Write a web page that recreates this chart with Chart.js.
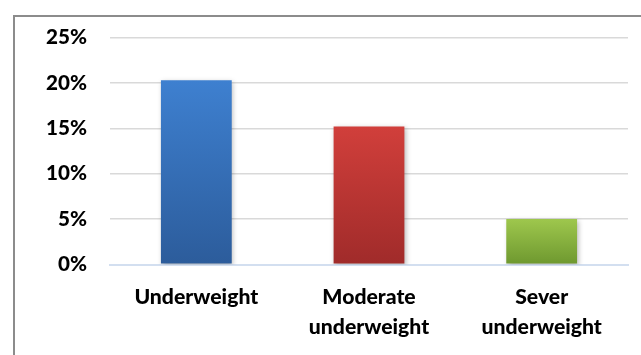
<!DOCTYPE html>
<html>
<head>
<meta charset="utf-8">
<script src="https://cdn.jsdelivr.net/npm/chart.js@4.4.1/dist/chart.umd.min.js"></script>
<style>
  html, body { margin: 0; padding: 0; background: #ffffff; }
  #wrap { position: relative; width: 641px; height: 355px; }
</style>
</head>
<body>
<div id="wrap"><canvas id="c" width="641" height="355"></canvas></div>
<script>
// Share of children by weight-for-age category
const categories = [['Underweight'], ['Moderate', 'underweight'], ['Sever', 'underweight']];
const percentValues = [20.3, 15.2, 5.0];
const yTicks = [0, 5, 10, 15, 20, 25];

// Top / bottom colours of each bar's vertical gradient
const topColors = ['#3e80d0', '#d13f3b', '#9ec74d'];
const bottomColors = ['#2c5c9b', '#a02b2a', '#6e982f'];

const FAMILY = 'Lato, "Open Sans", "Liberation Sans", sans-serif';
const WEIGHT = '900';

// Pick a font size that gives a text run the wanted width
function fitSize(text, width) {
  const m = document.createElement('canvas').getContext('2d');
  m.font = WEIGHT + ' 20px ' + FAMILY;
  return Math.round(20 * width / m.measureText(text).width * 10) / 10;
}
const catSize = fitSize('Underweight', 124);
const tickSize = fitSize('25%', 41);

// Frame lines along the top and left edges
const framePlugin = {
  id: 'frame',
  beforeDraw(chart) {
    const ctx = chart.ctx;
    ctx.save();
    ctx.strokeStyle = '#8c8c8c';
    ctx.lineWidth = 2;
    ctx.beginPath();
    ctx.moveTo(14, chart.height);
    ctx.lineTo(14, 16);
    ctx.lineTo(chart.width, 16);
    ctx.stroke();
    ctx.restore();
  }
};

// Soft drop shadow behind the bars
const shadowPlugin = {
  id: 'barShadow',
  beforeDatasetsDraw(chart) {
    const ctx = chart.ctx;
    ctx.save();
    ctx.shadowColor = 'rgba(0,0,0,0.28)';
    ctx.shadowBlur = 5;
    ctx.shadowOffsetX = 1.5;
    ctx.shadowOffsetY = 2;
  },
  afterDatasetsDraw(chart) {
    chart.ctx.restore();
  }
};

new Chart(document.getElementById('c'), {
  type: 'bar',
  data: {
    labels: categories,
    datasets: [{
      data: percentValues,
      backgroundColor(context) {
        const chart = context.chart;
        const i = context.dataIndex;
        if (!chart.chartArea || i === undefined) return topColors[i || 0];
        const y = chart.scales.y;
        const top = y.getPixelForValue(context.raw);
        const bottom = y.getPixelForValue(0);
        const g = chart.ctx.createLinearGradient(0, top, 0, bottom);
        g.addColorStop(0, topColors[i]);
        g.addColorStop(1, bottomColors[i]);
        return g;
      },
      borderWidth: 0,
      categoryPercentage: 1.0,
      barPercentage: 0.41
    }]
  },
  options: {
    responsive: false,
    animation: false,
    devicePixelRatio: 1,
    layout: { padding: { top: 37.5, right: 13, left: 0, bottom: 0 } },
    plugins: {
      legend: { display: false },
      tooltip: { enabled: false }
    },
    scales: {
      x: {
        grid: { display: false },
        border: { display: true, color: '#d3dff0', width: 2 },
        ticks: {
          color: '#000000',
          padding: 10,
          maxRotation: 0,
          autoSkip: false,
          font: { family: FAMILY, weight: WEIGHT, size: catSize, lineHeight: 1.4 }
        },
        afterFit(scale) { scale.height = 355 - 264.5; }
      },
      y: {
        min: 0,
        max: 25,
        afterBuildTicks(scale) { scale.ticks = yTicks.map(v => ({ value: v })); },
        grid: {
          drawTicks: false,
          color(ctx) { return ctx.tick && ctx.tick.value === 0 ? '#d3dff0' : '#d9d9d9'; },
          lineWidth(ctx) { return ctx.tick && ctx.tick.value === 0 ? 2 : 1.6; }
        },
        border: { display: false },
        ticks: {
          color: '#000000',
          padding: 23,
          callback: v => v + '%',
          font: { family: FAMILY, weight: WEIGHT, size: tickSize }
        },
        afterFit(scale) { scale.width = 110; }
      }
    }
  },
  plugins: [framePlugin, shadowPlugin]
});
</script>
</body>
</html>
